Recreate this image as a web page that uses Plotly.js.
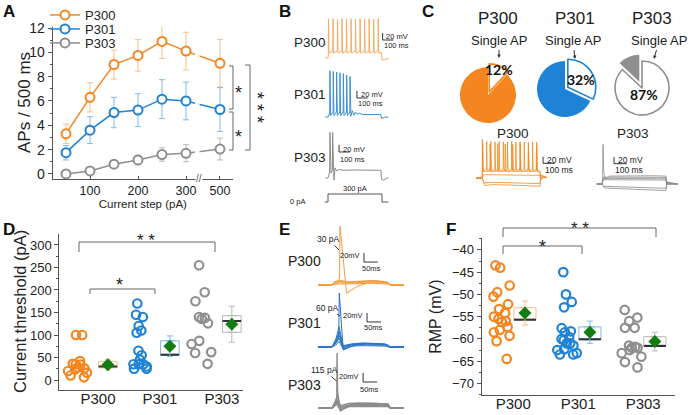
<!DOCTYPE html>
<html><head><meta charset="utf-8">
<script src="https://cdn.plot.ly/plotly-3.0.1.min.js"></script>
<style>html,body{margin:0;padding:0;background:#fff}#chart{width:688px;height:415px}</style>
</head><body><div id="chart"></div>
<script>
// ---------------- DATA ----------------
// Panel A: APs per 500 ms vs current step
const stepsA = [50,100,150,200,250,300,500];
const apsP300 = [3.3,6.3,9.0,9.75,10.9,10.1,9.1];
const errP300 = [0.8,1.2,1.2,1.3,1.4,1.55,1.95];
const apsP301 = [1.75,3.6,5.05,5.25,6.15,6.0,5.3];
const errP301 = [0.6,1.1,1.25,1.35,1.6,1.55,1.8];
const apsP303 = [0.0,0.25,0.8,1.15,1.6,1.7,2.05];
const errP303 = [0.1,0.25,0.3,0.4,0.55,0.7,0.9];
const groups = ['P300','P301','P303'];
// Panel C: pie fractions (%)
const singleAP = [12,32,87];
const multiAP = [88,68,13];
// Panel D: current threshold (pA)
const thrP300 = [100,100,42,36,35,34,28,26,24,20,16,10,6];
const thrP301 = [170,145,140,120,110,105,65,55,45,35,35,35,30,25,25];
const thrP303 = [255,195,175,140,138,136,126,87,80,62,60,36];
const thrQ1 = [27,55,106];
const thrQ3 = [41,87,143];
const thrMedian = [30,56,131];
const thrMean = [34,75,124];
const thrErr = [12,23,40];
// Panel F: RMP (mV)
const rmpP300 = [-43.5,-44,-48,-49.5,-50.5,-52.2,-53.3,-54.2,-55,-55.5,-56,-56.2,-57.3,-58,-58.5,-59.3,-60.5,-64.5];
const rmpP301 = [-45,-50,-51.7,-52.9,-57.6,-58.3,-58.5,-59.6,-60,-60.3,-61,-61,-61.5,-62.3,-62.5,-63.2,-63.5,-63.5];
const rmpP303 = [-53.5,-55.2,-56,-57.5,-57.5,-61.5,-61.8,-62,-62,-62.5,-63.2,-64,-65.2,-66.4];
const rmpQ1 = [-55.7,-60.2,-61.6];
const rmpQ3 = [-53.0,-57.3,-59.5];
const rmpMedian = [-55.7,-60.1,-61.6];
const rmpMean = [-54.2,-58.5,-60.6];
const rmpErr = [2.7,2.5,2.1];
// Panel B: example traces [ms, mV] and stimulus [ms, pA]
const trB300 = [[-25,-62],[0,-62],[3,-50],[4,50],[9,-48],[44,-42],[46,50],[51,-48],[86,-42],[88,49],[93,-48],[128,-42],[130,50],[135,-48],[169,-42],[171,49],[176,-48],[211,-42],[213,50],[218,-48],[253,-42],[255,49],[260,-48],[295,-42],[297,50],[302,-48],[337,-42],[339,49],[344,-48],[379,-42],[381,50],[386,-48],[421,-42],[423,49],[428,-48],[463,-42],[465,50],[470,-48],[495,-46],[500,-68],[530,-66],[560,-63]];
const trB301 = [[-25,-62],[0,-62],[16,-50],[18,70],[24,-58],[47,-48],[49,68],[55,-58],[78,-48],[80,66],[86,-58],[109,-48],[111,64],[117,-58],[140,-48],[142,62],[148,-58],[171,-48],[173,58],[179,-58],[202,-48],[204,54],[212,-60],[225,-44],[240,-57],[255,-48],[270,-54],[290,-51],[320,-55],[400,-55],[490,-55],[495,-66],[525,-63],[560,-62]];
const trB303 = [[-25,-62],[0,-62],[15,-45],[18,69],[28,-48],[40,-40],[43,68],[55,-68],[65,-33],[80,-42],[100,-38],[150,-40],[250,-39],[350,-40],[450,-39],[490,-40],[495,-66],[515,-68],[540,-63],[560,-62]];
const stimB = [[-30,0],[0,0],[0,300],[500,300],[500,0],[560,0]];
// Panel C: overlaid step responses [ms, mV]
const trC300 = [
 [[-50,-65],[0,-65],[2,-50],[3,52],[8,-42],[38,-40],[40,45],[45,-42],[74,-40],[76,46],[81,-42],[110,-40],[112,44],[117,-42],[146,-40],[148,46],[153,-42],[182,-40],[184,45],[189,-42],[218,-40],[220,44],[225,-42],[254,-40],[256,46],[261,-42],[290,-40],[292,44],[297,-42],[326,-40],[328,45],[333,-42],[362,-40],[364,44],[369,-42],[398,-40],[400,43],[405,-42],[434,-40],[436,45],[441,-42],[470,-40],[472,44],[477,-42],[500,-45],[505,-72],[530,-60],[560,-64]],
 [[-50,-65],[0,-65],[4,-52],[6,40],[12,-46],[68,-44],[70,38],[76,-46],[133,-44],[135,39],[141,-46],[198,-44],[200,38],[206,-46],[263,-44],[265,37],[271,-46],[328,-44],[330,38],[336,-46],[398,-44],[400,37],[406,-46],[468,-44],[470,36],[476,-46],[500,-47],[505,-70],[530,-61],[560,-64]],
 [[-50,-65],[0,-65],[20,-55],[150,-56],[350,-57],[500,-57],[505,-66],[540,-63],[560,-64]],
 [[-50,-65],[0,-65],[20,-80],[80,-78],[300,-80],[500,-82],[508,-58],[540,-63],[560,-64]],
 [[-50,-65],[0,-65],[25,-88],[90,-85],[300,-87],[500,-90],[508,-56],[540,-62],[560,-64]]
];
const trC303 = [
 [[-40,-65],[0,-65],[5,-50],[8,55],[14,-30],[25,-50],[60,-41],[200,-40],[400,-40],[500,-41],[505,-65],[520,-60],[560,-63],[590,-65]],
 [[-40,-65],[0,-65],[10,-44],[300,-44],[500,-45],[505,-65],[590,-65]],
 [[-40,-65],[0,-65],[10,-48],[300,-48],[500,-49],[505,-65],[590,-65]],
 [[-40,-65],[0,-65],[10,-52],[300,-52],[500,-53],[505,-65],[590,-65]],
 [[-40,-65],[0,-65],[15,-72],[300,-75],[500,-78],[508,-60],[530,-63],[590,-65]],
 [[-40,-65],[0,-65],[20,-77],[300,-81],[500,-85],[508,-58],[530,-62],[590,-65]]
];
// Panel E: threshold responses [ms, mV]
const trE300 = [
 [[-50,-65],[0,-65],[20,-58],[27,-50],[28.5,66],[52,-83],[90,-68],[130,-60],[160,-58],[200,-61],[208,-65],[257,-65]],
 [[-50,-65],[0,-65],[10,-61],[30,-60],[60,-61],[100,-60],[140,-58],[170,-59],[200,-61],[208,-65],[257,-65]],
 [[-50,-65],[0,-65],[10,-59],[30,-57],[60,-59],[100,-58],[140,-56],[170,-57],[200,-60],[208,-65],[257,-65]],
 [[-50,-65],[0,-65],[10,-57],[30,-55],[60,-58],[100,-57],[140,-55],[170,-56],[200,-59],[208,-65],[257,-65]],
 [[-50,-65],[0,-65],[10,-63],[30,-63],[60,-63],[100,-62],[140,-61],[170,-62],[200,-63],[208,-65],[257,-65]]
];
const trE301 = [
 [[-50,-65],[0,-65],[15,-55],[24,-45],[26,55],[40,-72],[60,-66],[90,-60],[130,-57],[170,-58],[200,-60],[208,-65],[257,-65]],
 [[-50,-65],[0,-65],[15,-45],[25,-20],[40,-62],[70,-58],[110,-56],[150,-57],[190,-58],[205,-65],[257,-65]],
 [[-50,-65],[0,-65],[15,-50],[25,-30],[40,-64],[70,-59],[110,-57],[150,-58],[190,-59],[205,-65],[257,-65]],
 [[-50,-65],[0,-65],[15,-53],[25,-38],[40,-66],[70,-60],[110,-58],[150,-59],[190,-60],[205,-65],[257,-65]],
 [[-50,-65],[0,-65],[15,-56],[25,-45],[40,-68],[70,-61],[110,-60],[150,-60],[190,-61],[205,-65],[257,-65]],
 [[-50,-65],[0,-65],[15,-60],[25,-52],[40,-70],[70,-63],[110,-62],[150,-62],[190,-63],[205,-65],[257,-65]]
];
const trE303 = [
 [[-50,-65],[0,-65],[12,-58],[17,-50],[18,57],[20,-30],[30,-72],[50,-62],[80,-57],[120,-55],[160,-55],[200,-57],[208,-65],[257,-65]],
 [[-50,-65],[0,-65],[10,-52],[18,-40],[30,-60],[60,-55],[100,-54],[150,-55],[200,-56],[208,-65],[257,-65]],
 [[-50,-65],[0,-65],[10,-56],[18,-48],[30,-63],[60,-58],[100,-57],[150,-57],[200,-58],[208,-65],[257,-65]],
 [[-50,-65],[0,-65],[10,-58],[18,-53],[30,-66],[60,-60],[100,-59],[150,-59],[200,-60],[208,-65],[257,-65]],
 [[-50,-65],[0,-65],[10,-60],[18,-57],[30,-70],[60,-62],[100,-61],[150,-61],[200,-62],[208,-65],[257,-65]]
];
const thrCurrentE = ['30 pA','60 pA','115 pA'];

// ---------------- HELPERS ----------------
const W = 688, H = 415;
const FONT = 'Liberation Sans, Arial, sans-serif';
const dX = (a,b) => [a/W, b/W];
const dY = (t,b) => [1-b/H, 1-t/H];
const cOr = '#f5861f', cBl = '#1e83d6', cGr = '#8f8f8f';
const lOr = '#f3c08b', lBl = '#80b9e6', lGr = '#b8b8b8';
const colors = [cOr, cBl, cGr], lights = [lOr, lBl, lGr];

function line(pairs, xa, ya, color, w) {
  return {type:'scatter', mode:'lines', x:pairs.map(p=>p[0]), y:pairs.map(p=>p[1]),
    xaxis:xa, yaxis:ya, line:{color:color, width:w||1}, showlegend:false, hoverinfo:'skip'};
}
function scaleBar(xa, ya, t0, v0, dt, dv) {
  return line([[t0, v0+dv],[t0, v0],[t0+dt, v0]], xa, ya, '#333', 1);
}
function T(text, x, y, size, opts) {
  return Object.assign({text:text, x:x/W, y:1-y/H, xref:'paper', yref:'paper', showarrow:false,
    font:{size:size, color:'#222', family:FONT}, xanchor:'center', yanchor:'middle'}, opts||{});
}
function L(x0,y0,x1,y1,color,w) {
  return {type:'line', xref:'paper', yref:'paper', x0:x0/W, y0:1-y0/H, x1:x1/W, y1:1-y1/H,
    line:{color:color||'#666', width:w||1}};
}

const traces = [];
const annotations = [];
const shapes = [];

// ---------------- PANEL A ----------------
const posA = v => v <= 300 ? v : 300 + (v-300)*0.354;
const xA = stepsA.map(posA);
const seriesA = [[apsP300, errP300], [apsP301, errP301], [apsP303, errP303]];
seriesA.forEach((s, i) => {
  traces.push({type:'scatter', mode:'lines+markers', name:groups[i], x:xA, y:s[0],
    xaxis:'x', yaxis:'y', legend: i===0 ? 'legend' : 'legend'+(i+1), showlegend:true,
    line:{color:colors[i], width:1.5},
    marker:{symbol:'circle', size:9, color:'white', line:{color:colors[i], width:2}},
    error_y:{type:'data', array:s[1], color:lights[i], thickness:1, width:3},
    hoverinfo:'skip'});
});
// axis break gap
shapes.push({type:'rect', xref:'paper', yref:'paper', x0:195/W, x1:199.5/W, y0:1-172/H, y1:1-40/H,
  fillcolor:'white', line:{width:0}, layer:'above'});
annotations.push(T('//', 199, 178.5, 10, {font:{size:10,color:'#555',family:FONT}, bgcolor:'white', borderpad:0}));
annotations.push(T('APs / 500 ms', 24, 103, 17, {textangle:-90}));
// significance A
shapes.push(L(229,66,233,66), L(233,66,233,109), L(229,109,233,109));
shapes.push(L(229,112,233,112), L(233,112,233,150), L(229,150,233,150));
shapes.push(L(245,65,250,65), L(250,65,250,150), L(245,150,250,150));
[[238,89],[238,133]].forEach(p => annotations.push(T('*', p[0], p[1]+4, 18)));
annotations.push(T('* * *', 257, 107, 18, {textangle:90}));

// ---------------- PANEL B ----------------
traces.push(line(trB300, 'x2', 'y2', '#f5ad66', 1));
traces.push(line(trB301, 'x2', 'y3', '#3d8fd1', 1));
traces.push(line(trB303, 'x2', 'y4', '#8c8c8c', 1));
traces.push(line(stimB, 'x2', 'y5', '#555', 1));
traces.push(scaleBar('x2','y2', 506, -10.6, 100, 20));
traces.push(scaleBar('x2','y3', 268, -7.7, 100, 20));
traces.push(scaleBar('x2','y4', 102, 12.3, 100, 20));
annotations.push(T('P300', 310, 42, 13.5), T('P301', 310, 94, 13.5), T('P303', 310, 157, 13.5));
annotations.push(T('20 mV', 384, 36.5, 7.5, {xanchor:'left'}), T('100 ms', 381.5, 45, 7.5, {xanchor:'left'}));
annotations.push(T('20 mV', 358.5, 95, 7.5, {xanchor:'left'}), T('100 ms', 356, 104, 7.5, {xanchor:'left'}));
annotations.push(T('20 mV', 340.5, 149, 7.5, {xanchor:'left'}), T('100 ms', 338, 159, 7.5, {xanchor:'left'}));
annotations.push(T('300 pA', 355, 188, 7.5), T('0 pA', 297, 201.5, 7.5));

// ---------------- PANEL C ----------------
const pieCenters = [[488,95],[565,89],[642,88]];
const pieR = [28,28,27];
const piePull = [[0.12,0],[0.12,0],[0,0.25]];
groups.forEach((g, i) => {
  const mp = Math.max(...piePull[i]);
  const s = pieR[i]*(1+mp);
  const c = pieCenters[i];
  traces.push({type:'pie', values:[singleAP[i], multiAP[i]], labels:['Single AP','Multiple APs'],
    sort:false, direction:'clockwise', rotation:0, pull:piePull[i], textinfo:'none',
    marker:{colors:['white', colors[i]], line:{color:[colors[i], colors[i]], width:[1.6, 0]}},
    domain:{x:dX(c[0]-s, c[0]+s), y:dY(c[1]-s, c[1]+s)}, showlegend:false, hoverinfo:'skip'});
});
annotations.push(T('P300', 498, 18, 17), T('P301', 575, 18, 17), T('P303', 652, 18, 17));
const sapHead = [[499,58],[575,59],[654,59]];
const sapText = [[499,41],[573,41],[659,41]];
sapHead.forEach((h, i) => annotations.push(T('Single AP', h[0], h[1], 13,
  {showarrow:true, ax:sapText[i][0]-h[0], ay:sapText[i][1]-h[1], arrowhead:2, arrowsize:0.7, arrowwidth:1, arrowcolor:'#333'})));
const pctPos = [[499,69],[581,79],[644,95]];
pctPos.forEach((p, i) => annotations.push(T('<b>'+singleAP[i]+'%</b>', p[0], p[1], 14, {font:{size:14,color:'#111',family:'Lato, Liberation Sans, sans-serif'}})));
trC300.forEach(p => traces.push(line(p, 'x3', 'y6', '#f28a22', 0.8)));
trC303.forEach(p => traces.push(line(p, 'x4', 'y7', '#8a8a8a', 0.8)));
traces.push(scaleBar('x3','y6', 526, -20.5, 100, 20));
traces.push(scaleBar('x4','y7', 94, -3.5, 100, 20));
annotations.push(T('P300', 513, 133, 13.5), T('P303', 633, 133, 13.5));
annotations.push(T('20 mV', 545, 159.5, 8.5, {xanchor:'left'}), T('100 ms', 543, 169.5, 8.5, {xanchor:'left'}));
annotations.push(T('20 mV', 616, 160, 8.5, {xanchor:'left'}), T('100 ms', 613, 169.5, 8.5, {xanchor:'left'}));

// ---------------- PANEL D & F (dot + box) ----------------
function dotBox(xa, ya, valsList, q1, q3, med, mean, err, ptOff, ptW, bxOff, bxW) {
  const dots = [], boxes = [], meds = [], means = [];
  valsList.forEach((vals, i) => {
    dots.push({type:'box', y:vals, x0:i+ptOff, width:ptW, boxpoints:'all', jitter:1, pointpos:0,
      fillcolor:'rgba(0,0,0,0)', line:{width:0, color:'rgba(0,0,0,0)'},
      marker:{symbol:'circle-open', size:8.5, color:colors[i], line:{width:2.2, color:colors[i]}},
      xaxis:xa, yaxis:ya, showlegend:false, hoverinfo:'skip'});
    boxes.push({type:'box', x:[i+bxOff], q1:[q1[i]], median:[med[i]], q3:[q3[i]], lowerfence:[q1[i]], upperfence:[q3[i]],
      width:bxW, fillcolor:'rgba(255,255,255,0)', line:{color:lights[i], width:1}, boxpoints:false,
      xaxis:xa, yaxis:ya, showlegend:false, hoverinfo:'skip'});
    meds.push({type:'box', x:[i+bxOff], q1:[med[i]], median:[med[i]], q3:[med[i]], lowerfence:[med[i]], upperfence:[med[i]],
      width:bxW, fillcolor:'rgba(0,0,0,0)', line:{color:'#333', width:2}, boxpoints:false,
      xaxis:xa, yaxis:ya, showlegend:false, hoverinfo:'skip'});
    means.push({type:'scatter', mode:'markers', x:[i+bxOff], y:[mean[i]],
      marker:{symbol:'diamond', size:10, color:'#127d12'},
      error_y:{type:'data', array:[err[i]], color:lights[i], thickness:1, width:3},
      xaxis:xa, yaxis:ya, showlegend:false, hoverinfo:'skip'});
  });
  return dots.concat(boxes, meds, means);
}
traces.push(...dotBox('x5','y8', [thrP300, thrP301, thrP303], thrQ1, thrQ3, thrMedian, thrMean, thrErr, -0.32, 0.4, 0.16, 0.3));
traces.push(...dotBox('x7','y12', [rmpP300, rmpP301, rmpP303], rmpQ1, rmpQ3, rmpMedian, rmpMean, rmpErr, -0.17, 0.38, 0.18, 0.34));
annotations.push(T('Current threshold (pA)', 20, 312, 16.5, {textangle:-90}));
// significance D
shapes.push(L(79,242,215,242), L(79,242,79,252), L(215,242,215,252));
shapes.push(L(90,289,155,289), L(90,289,90,294), L(155,289,155,294));
annotations.push(T('* *', 146, 240, 17), T('*', 119, 285, 18));
// significance F
shapes.push(L(503,228,656,228), L(503,228,503,237), L(656,228,656,237));
shapes.push(L(503,246,582,246), L(503,246,503,254), L(582,246,582,254));
annotations.push(T('* *', 580, 228, 17), T('*', 542, 246.5, 18));

// ---------------- PANEL E ----------------
trE300.forEach(p => traces.push(line(p, 'x6', 'y9', '#f39a3c', 1)));
trE301.forEach(p => traces.push(line(p, 'x6', 'y10', '#2a74c4', 1)));
trE303.forEach(p => traces.push(line(p, 'x6', 'y11', '#8c8c8c', 1.4)));
traces.push(scaleBar('x6','y9', 114, -14, 50, 20));
traces.push(scaleBar('x6','y10', 125, -9.4, 50, 20));
traces.push(scaleBar('x6','y11', 111, -7.2, 50, 20));
annotations.push(T('P300', 304, 261, 14), T('P301', 304, 323, 14), T('P303', 304, 385, 14));
annotations.push(T('20mV', 362, 255, 7.5, {xanchor:'right'}), T('50ms', 371, 268, 7.5));
annotations.push(T('20mV', 365, 315, 7.5, {xanchor:'right'}), T('50ms', 373, 327, 7.5));
annotations.push(T('20mV', 361, 376, 7.5, {xanchor:'right'}), T('50ms', 370, 389, 7.5));
const eHead = [[339,250],[340,316],[336.5,381]];
const eText = [[328,239],[327,307.5],[324,370]];
eHead.forEach((h, i) => annotations.push(T(thrCurrentE[i], h[0], h[1], 8.5,
  {showarrow:true, ax:eText[i][0]-h[0], ay:eText[i][1]-h[1], arrowhead:0, arrowwidth:1, arrowcolor:'#333', standoff:0})));

// ---------------- PANEL LETTERS ----------------
[['A',9,11],['B',285,11],['C',428,11],['D',9,229],['E',284,229],['F',451,229]].forEach(l =>
  annotations.push(T('<b>'+l[0]+'</b>', l[1], l[2], 17, {font:{size:17,color:'#111',family:FONT}})));

// ---------------- LAYOUT ----------------
const axBase = {showgrid:false, zeroline:false, showline:true, linecolor:'#555', linewidth:1,
  ticks:'outside', tickcolor:'#555', ticklen:4, tickfont:{size:13, color:'#222', family:FONT}, fixedrange:true};
const hid = {visible:false, fixedrange:true};
const minorY = d => ({dtick:d, ticks:'outside', ticklen:2, tickcolor:'#555', showgrid:false});
const legendBase = {xanchor:'left', yanchor:'top', bgcolor:'rgba(0,0,0,0)', borderwidth:0,
  font:{size:13, color:'#222', family:FONT}, itemwidth:30, tracegroupgap:0};

const layout = {
  width:W, height:H, margin:{l:0,r:0,t:0,b:0}, paper_bgcolor:'white', plot_bgcolor:'rgba(0,0,0,0)',
  font:{family:FONT, color:'#222'}, boxmode:'overlay', showlegend:true,
  legend: Object.assign({x:45/W, y:1-0/H}, legendBase),
  legend2: Object.assign({x:45/W, y:1-14/H}, legendBase),
  legend3: Object.assign({x:45/W, y:1-28/H}, legendBase),
  // A
  xaxis: Object.assign({}, axBase, {domain:dX(52.7,233), range:[22.3,397.9], anchor:'y',
    tickmode:'array', tickvals:[100,200,300,posA(500)], ticktext:['100','200','300','500'],
    ticks:'inside', ticklen:3,
    tickfont:{size:12.5,color:'#222',family:FONT},
    title:{text:'Current step (pA)', font:{size:11.5,color:'#222',family:FONT}, standoff:0}}),
  yaxis: Object.assign({}, axBase, {domain:dY(26.8,179.3), range:[-0.44,12.1], anchor:'x',
    tickmode:'array', tickvals:[0,2,4,6,8,10,12], minor:minorY(1),
    tickfont:{size:14,color:'#222',family:FONT}}),
  // B
  xaxis2: Object.assign({}, hid, {domain:dX(310,400), range:[-166.7,666.7], anchor:'y5'}),
  yaxis2: Object.assign({}, hid, {domain:dY(8,68), range:[-90.6,80.9], anchor:'x2'}),
  yaxis3: Object.assign({}, hid, {domain:dY(62,122), range:[-76.3,95.1], anchor:'x2'}),
  yaxis4: Object.assign({}, hid, {domain:dY(125,185), range:[-82,89.4], anchor:'x2'}),
  yaxis5: Object.assign({}, hid, {domain:dY(185,205), range:[-112.5,637.5], anchor:'x2'}),
  // C traces
  xaxis3: Object.assign({}, hid, {domain:dX(476,560), range:[-51.7,672.4], anchor:'y6'}),
  yaxis6: Object.assign({}, hid, {domain:dY(135,192), range:[-107.4,65.3], anchor:'x3'}),
  xaxis4: Object.assign({}, hid, {domain:dX(596,684), range:[-46.9,640.6], anchor:'y7'}),
  yaxis7: Object.assign({}, hid, {domain:dY(135,195), range:[-98.3,83.5], anchor:'x4'}),
  // D
  xaxis5: Object.assign({}, axBase, {domain:dX(59.3,243), range:[-0.624,2.34], anchor:'y8',
    tickmode:'array', tickvals:[0,1,2], ticktext:groups, ticks:'', ticklen:0, ticklabelstandoff:-5,
    tickfont:{size:15,color:'#222',family:FONT}}),
  yaxis8: Object.assign({}, axBase, {domain:dY(234,390), range:[-22.2,324.4], anchor:'x5',
    tickmode:'array', tickvals:[0,50,100,150,200,250,300], minor:minorY(25)}),
  // E
  xaxis6: Object.assign({}, hid, {domain:dX(318,404), range:[-50,257], anchor:'y9'}),
  yaxis9: Object.assign({}, hid, {domain:dY(222,298), range:[-93.9,75], anchor:'x6'}),
  yaxis10: Object.assign({}, hid, {domain:dY(288,352), range:[-76.1,66.1], anchor:'x6'}),
  yaxis11: Object.assign({}, hid, {domain:dY(350,414), range:[-78.3,63.9], anchor:'x6'}),
  // F
  xaxis7: Object.assign({}, axBase, {domain:dX(481.7,675), range:[-0.486,2.49], anchor:'y12',
    tickmode:'array', tickvals:[0,1,2], ticktext:groups, ticks:'', ticklen:0, ticklabelstandoff:-5,
    tickfont:{size:15,color:'#222',family:FONT}}),
  yaxis12: Object.assign({}, axBase, {domain:dY(238.3,395), range:[-72.6,-37.4], anchor:'x7',
    tickmode:'array', tickvals:[-40,-45,-50,-55,-60,-65,-70], minor:minorY(2.5),
    title:{text:'RMP (mV)', font:{size:16,color:'#222',family:FONT}, standoff:6}}),
  annotations: annotations,
  shapes: shapes
};

Plotly.newPlot('chart', traces, layout, {displayModeBar:false, staticPlot:true});
</script></body></html>
